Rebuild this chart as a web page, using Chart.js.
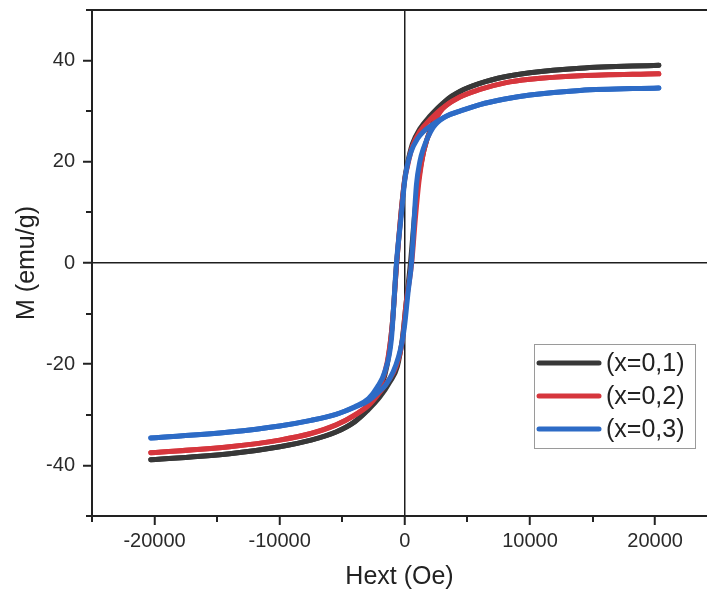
<!DOCTYPE html>
<html>
<head>
<meta charset="utf-8">
<script src="https://cdn.jsdelivr.net/npm/chart.js@4.4.0/dist/chart.umd.min.js"></script>
<style>
  html, body { margin: 0; padding: 0; background: #fff; }
  canvas { display: block; }
</style>
</head>
<body>
<canvas id="loopChart" width="707" height="596"></canvas>
<script>
// axis ticks
const xMajorTicks = [-20000, -10000, 0, 10000, 20000];
const xMinorTicks = [-25000, -15000, -5000, 5000, 15000];
const yMajorTicks = [-40, -20, 0, 20, 40];
const yMinorTicks = [-50, -30, -10, 10, 30, 50];

const seriesNames = ['(x=0,1)', '(x=0,2)', '(x=0,3)'];

// x=0,1 : branch coming down from +H, then branch going up from -H
const hDown1 = [-20300, -14000, -10000, -7500, -5500, -4000, -3000, -2000, -1400, -1000, -650, -300, 0, 200, 600, 1200, 2000, 3000, 4400, 6000, 8000, 10000, 14000, 20300];
const mDown1 = [-38.9, -37.7, -36.3, -35.0, -33.4, -31.3, -29.0, -25.0, -20.0, -12.0, 0, 10.0, 16.8, 19.5, 23.5, 26.5, 29.0, 31.5, 33.9, 35.5, 36.8, 37.6, 38.5, 39.1];
const hUp1 = [-20300, -14000, -10000, -7500, -5500, -4000, -3000, -2000, -1200, -600, -200, 100, 450, 800, 1100, 1500, 2200, 3000, 4400, 6000, 8000, 10000, 14000, 20300];
const mUp1 = [-38.9, -37.7, -36.3, -35.0, -33.4, -31.4, -29.2, -26.5, -23.5, -20.5, -15.0, -8.0, 0, 10.0, 16.5, 22.0, 27.5, 31.3, 33.9, 35.5, 36.8, 37.6, 38.5, 39.1];

// x=0,2
const hDown2 = [-20300, -14000, -10000, -7500, -5500, -4000, -3000, -2000, -1400, -1000, -650, -300, 0, 200, 600, 1200, 2000, 3000, 4400, 6000, 8000, 10000, 14000, 20300];
const mDown2 = [-37.5, -36.3, -35.0, -33.7, -32.0, -30.0, -28.2, -24.5, -19.5, -12.0, 0, 10.0, 16.6, 19.0, 23.0, 26.0, 28.3, 30.6, 32.8, 34.3, 35.6, 36.3, 37.0, 37.4];
const hUp2 = [-20300, -14000, -10000, -7500, -5500, -4000, -3000, -2300, -1400, -700, -200, 100, 550, 850, 1150, 1550, 2200, 3000, 4400, 6000, 8000, 10000, 14000, 20300];
const mUp2 = [-37.5, -36.3, -35.0, -33.7, -32.0, -30.1, -28.4, -26.5, -23.5, -20.5, -15.5, -8.0, 0, 9.0, 16.5, 22.5, 27.0, 30.4, 32.8, 34.3, 35.6, 36.3, 37.0, 37.4];

// x=0,3
const hDown3 = [-20300, -14000, -10000, -7500, -5500, -4000, -2900, -2200, -1600, -1070, -670, -300, 0, 200, 500, 1000, 1500, 2300, 3300, 4400, 6000, 8000, 10000, 14000, 20300];
const mDown3 = [-34.6, -33.4, -32.2, -31.1, -29.9, -28.4, -26.8, -24.5, -21.5, -15.0, 0, 9.0, 16.4, 19.3, 22.0, 24.5, 26.0, 27.5, 29.0, 30.0, 31.3, 32.4, 33.2, 34.1, 34.6];
const hUp3 = [-20300, -14000, -10000, -7500, -5500, -4000, -2900, -2100, -1500, -930, -500, -210, 0, 250, 530, 930, 1200, 1470, 2270, 3300, 4400, 6000, 8000, 10000, 14000, 20300];
const mUp3 = [-34.6, -33.4, -32.2, -31.1, -29.9, -28.5, -27.2, -25.5, -24.0, -21.5, -18.5, -15.5, -12.0, -6.0, 0, 15.5, 20.0, 22.5, 26.8, 29.0, 30.0, 31.3, 32.4, 33.2, 34.1, 34.6];

const colors = ['#383838', '#d6363d', '#2d6bc6'];
const fontFamily = '"Liberation Sans", Arial, sans-serif';

function toPoints(hs, ms) {
    return hs.map((h, i) => ({ x: h, y: ms[i] }));
}

const branches = [
    [hDown1, mDown1, hUp1, mUp1],
    [hDown2, mDown2, hUp2, mUp2],
    [hDown3, mDown3, hUp3, mUp3]
];

const datasets = [];
branches.forEach((b, i) => {
    [toPoints(b[0], b[1]), toPoints(b[2], b[3])].forEach(pts => {
        datasets.push({
            label: seriesNames[i],
            data: pts,
            borderColor: colors[i],
            borderWidth: 5,
            borderCapStyle: 'round',
            pointRadius: 0,
            cubicInterpolationMode: 'monotone',
            fill: false,
            order: 3 - i
        });
    });
});

// small ticks between labelled ones, plus the top frame line
const frameAndMinorTicks = {
    id: 'frameAndMinorTicks',
    afterDraw(chart) {
        const ctx = chart.ctx;
        const area = chart.chartArea;
        const xs = chart.scales.x, ys = chart.scales.y;
        ctx.save();
        ctx.strokeStyle = '#222';
        ctx.lineWidth = 2;
        ctx.beginPath();
        ctx.moveTo(area.left - 1, area.top);
        ctx.lineTo(area.right, area.top);
        xMinorTicks.forEach(v => {
            const px = Math.round(xs.getPixelForValue(v));
            ctx.moveTo(px, area.bottom);
            ctx.lineTo(px, area.bottom + 6);
        });
        yMinorTicks.forEach(v => {
            const py = Math.round(ys.getPixelForValue(v));
            ctx.moveTo(area.left, py);
            ctx.lineTo(area.left - 6, py);
        });
        ctx.stroke();
        ctx.restore();
    }
};

// boxed legend inside the plot
const boxLegend = {
    id: 'boxLegend',
    afterDraw(chart) {
        const ctx = chart.ctx;
        const left = 534, top = 344, w = 161, h = 104;
        ctx.save();
        ctx.fillStyle = '#fff';
        ctx.fillRect(left, top, w, h);
        ctx.strokeStyle = '#9a9a9a';
        ctx.lineWidth = 1;
        ctx.strokeRect(left + 0.5, top + 0.5, w, h);
        ctx.font = '25px ' + fontFamily;
        ctx.textBaseline = 'middle';
        ctx.fillStyle = '#222';
        seriesNames.forEach((name, i) => {
            const y = top + 19 + i * 33;
            ctx.strokeStyle = colors[i];
            ctx.lineWidth = 5;
            ctx.lineCap = 'round';
            ctx.beginPath();
            ctx.moveTo(539, y);
            ctx.lineTo(599, y);
            ctx.stroke();
            ctx.fillText(name, 606, y + 1);
        });
        ctx.restore();
    }
};

function gridColor(c) {
    return c.tick && c.tick.value === 0 ? '#1e1e1e' : 'rgba(0,0,0,0)';
}

new Chart(document.getElementById('loopChart').getContext('2d'), {
    type: 'line',
    data: { datasets: datasets },
    options: {
        responsive: false,
        animation: false,
        layout: { padding: { top: 10, left: 0, right: 0, bottom: 0 } },
        plugins: {
            legend: { display: false },
            tooltip: { enabled: false }
        },
        scales: {
            x: {
                type: 'linear',
                position: 'bottom',
                min: -25000,
                max: 24150,
                z: 1,
                afterBuildTicks: s => { s.ticks = xMajorTicks.map(v => ({ value: v })); },
                afterFit: s => { s.height = 80; s.paddingLeft = 0; s.paddingRight = 0; },
                border: { display: true, color: '#222', width: 2 },
                grid: {
                    color: gridColor,
                    lineWidth: 1.5,
                    drawTicks: true,
                    tickLength: 9,
                    tickColor: '#222',
                    tickWidth: 2
                },
                ticks: {
                    padding: 4,
                    color: '#2a2a2a',
                    font: { family: fontFamily, size: 20 },
                    maxRotation: 0,
                    callback: v => String(v)
                },
                title: {
                    display: true,
                    text: 'Hext (Oe)',
                    color: '#222',
                    font: { family: fontFamily, size: 25 },
                    padding: { bottom: 4 }
                }
            },
            y: {
                type: 'linear',
                min: -50,
                max: 50,
                z: 1,
                afterBuildTicks: s => { s.ticks = yMajorTicks.map(v => ({ value: v })); },
                afterFit: s => { s.width = 92; s.paddingTop = 0; s.paddingBottom = 0; },
                border: { display: true, color: '#222', width: 2 },
                grid: {
                    color: gridColor,
                    lineWidth: 1.5,
                    drawTicks: true,
                    tickLength: 9,
                    tickColor: '#222',
                    tickWidth: 2
                },
                ticks: {
                    padding: 8,
                    color: '#2a2a2a',
                    font: { family: fontFamily, size: 20 },
                    callback: v => String(v)
                },
                title: {
                    display: true,
                    text: 'M (emu/g)',
                    color: '#222',
                    font: { family: fontFamily, size: 25 },
                    padding: { top: 12 }
                }
            }
        }
    },
    plugins: [frameAndMinorTicks, boxLegend]
});
</script>
</body>
</html>
